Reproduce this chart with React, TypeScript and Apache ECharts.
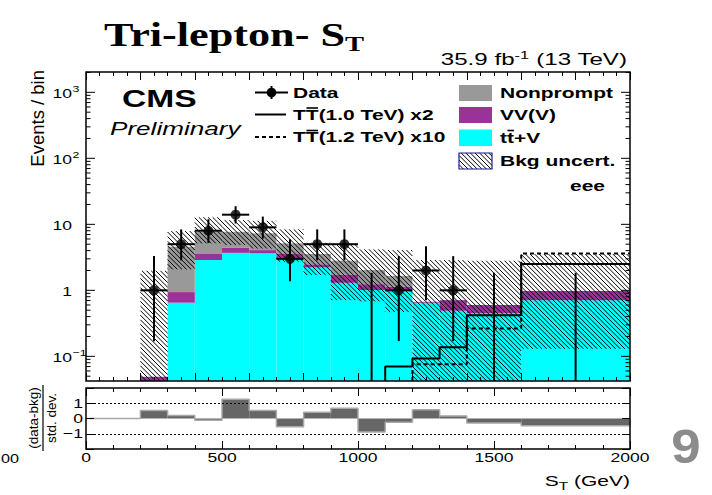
import React, { useEffect, useRef } from 'react';
import * as echarts from 'echarts';

// ---------- data ----------
const binEdges = [200, 300, 400, 500, 600, 700, 800, 900, 1000, 1100, 1200, 1300, 1400, 1600, 2000];
const ttV = [0, 0.65, 2.88, 3.7, 3.63, 3.05, 2.23, 1.3, 1.01, 0.99, 0.65, 0.49, 0.45, 0.71];
const vvv = [0.049, 0.29, 0.75, 0.7, 0.44, 0.5, 0.25, 0.41, 0.23, 0.14, 0.02, 0.22, 0.15, 0.265];
const nonprompt = [0, 3.63, 4.07, 3.3, 3.23, 1.6, 1.07, 1.1, 0.79, 0.52, 0, 0, 0, 0];
const bkgUncLow = [0, 2.08, 5.15, 4.86, 4.3, 2.71, 1.7, 0.71, 0.68, 0.47, 0, 0, 0, 0.13];
const bkgUncHigh = [1.98, 7.9, 12.8, 11.6, 11.3, 8.4, 5.26, 4.86, 4.18, 4.08, 2.88, 2.88, 2.81, 3.55];
const dataCounts = [1, 5, 8, 14, 9, 3, 5, 5, 0, 1, 2, 1, 0, 0];
const dataErrLow = [0.17, 2.84, 5.23, 10.3, 6.06, 1.37, 2.84, 2.84, 0, 0.17, 0.71, 0.17, 0, 0];
const dataErrHigh = [3.3, 8.38, 11.95, 18.8, 13.1, 5.92, 8.38, 8.38, 1.84, 3.3, 4.64, 3.3, 1.84, 1.84];
const signalTT1000x2 = [0, 0, 0, 0, 0, 0, 0, 0, 0, 0.07, 0.093, 0.137, 0.42, 2.5];
const signalTT1200x10 = [0, 0, 0, 0, 0, 0, 0, 0, 0, 0, 0.076, 0.076, 0.265, 3.6];
const pulls = [0.52, 0.19, -0.11, 1.27, 0.52, -0.54, 0.41, 0.67, -0.88, -0.24, 0.58, 0.17, -0.3, -0.47];
const xTickLabels = [0, 500, 1000, 1500, 2000];
const yDecadeTicks = [0.1, 1, 10, 100, 1000];
const yDecadeLabels = [['10', '−1'], ['1', ''], ['10', ''], ['10', '2'], ['10', '3']];
const pullTicks = [-1, 0, 1];
const pullTickLabels = ['−1', '0', '1'];

// ---------- axis ranges ----------
const yMin = 0.0423;
const yMax = 2032;
const xMin = 0;
const xMax = 2000;

const SANS = '"Liberation Sans", Arial, Helvetica, sans-serif';
const SERIF = '"Liberation Serif", "Times New Roman", serif';
const SX = 1.4;

const C_NP = '#999999';
const C_VV = '#993399';
const C_TTV = '#00ffff';

function hatchSegments(x0: number, y0: number, x1: number, y1: number, s: number) {
  const out: any[] = [];
  const cMin = x0 - y1;
  const cMax = x1 - y0;
  for (let c = Math.ceil(cMin / s) * s; c <= cMax; c += s) {
    const xa = Math.max(x0, y0 + c);
    const xb = Math.min(x1, y1 + c);
    if (xb - xa > 0.3) out.push({ x1: xa, y1: xa - c, x2: xb, y2: xb - c });
  }
  return out;
}

const nBins = binEdges.length - 1;
const binIdx = Array.from({ length: nBins }, (_, i) => i);

const stackTTV = binIdx.map((i) => [binEdges[i], binEdges[i + 1], yMin, Math.max(ttV[i], yMin)]);
const stackVV = binIdx.map((i) => [binEdges[i], binEdges[i + 1], Math.max(ttV[i], yMin), Math.max(ttV[i] + vvv[i], yMin)]);
const stackNP = binIdx.map((i) => [
  binEdges[i],
  binEdges[i + 1],
  Math.max(ttV[i] + vvv[i], yMin),
  Math.max(ttV[i] + vvv[i] + nonprompt[i], yMin),
]);
const uncBand = binIdx.map((i) => [binEdges[i], binEdges[i + 1], Math.max(bkgUncLow[i], yMin), bkgUncHigh[i]]);
const dataBars = binIdx.map((i) => [
  binEdges[i],
  binEdges[i + 1],
  Math.max(dataCounts[i], yMin),
  Math.max(dataErrLow[i], yMin),
  dataErrHigh[i],
  dataCounts[i] > 0 ? 1 : 0,
]);
const dataMarkers = binIdx
  .filter((i) => dataCounts[i] > 0)
  .map((i) => [(binEdges[i] + binEdges[i + 1]) / 2, dataCounts[i]]);

function stepPoints(vals: number[]) {
  const pts: number[][] = [];
  let started = false;
  vals.forEach((v, i) => {
    if (!started && v > 0) {
      started = true;
      pts.push([binEdges[i], yMin]);
    }
    if (started) {
      const vv = Math.max(v, yMin);
      pts.push([binEdges[i], vv], [binEdges[i + 1], vv]);
    }
  });
  return pts;
}

const pullOutline: number[][] = [[xMin, 0], [binEdges[0], 0]];
binIdx.forEach((i) => {
  pullOutline.push([binEdges[i], pulls[i]], [binEdges[i + 1], pulls[i]]);
});
pullOutline.push([xMax, 0]);
const pullBars = binIdx.map((i) => [binEdges[i], binEdges[i + 1], pulls[i]]);

const yMinorValues: number[] = [];
[0.01, 0.1, 1, 10, 100, 1000].forEach((d) => {
  for (let m = 2; m <= 9; m++) {
    const v = m * d;
    if (v > yMin && v < yMax) yMinorValues.push(v);
  }
});
const yTickData = [
  ...yDecadeTicks.map((v, i) => [0, v, 1, i]),
  ...yMinorValues.map((v) => [0, v, 0, -1]),
];

const rectItem = (color: string) => (params: any, api: any) => {
  const x0 = api.value(0);
  const x1 = api.value(1);
  const b = Math.max(api.value(2), yMin);
  const t = Math.min(api.value(3), yMax);
  if (t <= b * 1.0001) return null;
  const p0 = api.coord([x0, b]);
  const p1 = api.coord([x1, t]);
  return {
    type: 'rect',
    shape: { x: p0[0], y: p1[1], width: p1[0] - p0[0], height: p0[1] - p1[1] },
    style: { fill: color },
  };
};

function txt(x: number, y: number, text: string, font: string, o: any = {}) {
  return {
    type: 'text',
    x,
    y,
    scaleX: o.sx ?? SX,
    scaleY: o.sy ?? 1,
    rotation: o.rot ?? 0,
    silent: true,
    z: 50,
    style: {
      text,
      font,
      fill: o.fill ?? '#000',
      align: o.align ?? 'left',
      verticalAlign: o.va ?? 'middle',
      rich: o.rich,
    },
  };
}

function gline(x1: number, y1: number, x2: number, y2: number, w = 2, dash?: number[]) {
  return {
    type: 'line',
    silent: true,
    z: 50,
    shape: { x1, y1, x2, y2 },
    style: { stroke: '#000', lineWidth: w, lineDash: dash },
  };
}

const legendHatch = hatchSegments(459, 153, 492, 169, 4.6).map((s) => ({
  type: 'line',
  silent: true,
  z: 50,
  shape: s,
  style: { stroke: '#000', lineWidth: 1 },
}));

const graphicElements: any[] = [
  // title
  txt(104, 35, '{a|Tri-lepton- S}{s|T}', '', {
    sx: 1.3,
    rich: {
      a: { font: `bold 34px ${SERIF}`, lineHeight: 40, fill: '#000' },
      s: { font: `bold 22px ${SERIF}`, lineHeight: 16, verticalAlign: 'bottom', fill: '#000' },
    },
  }),
  // lumi
  txt(627, 59, '{a|35.9 fb}{s|-1}{a| (13 TeV)}', '', {
    align: 'right',
    sx: 1.42,
    rich: {
      a: { font: `17px ${SANS}`, lineHeight: 20, fill: '#000' },
      s: { font: `11.5px ${SANS}`, lineHeight: 8, verticalAlign: 'top', fill: '#000' },
    },
  }),
  // CMS
  txt(122, 99, 'CMS', `bold 24px ${SANS}`, { sx: 1.4 }),
  txt(110, 129, 'Preliminary', `italic 18px ${SANS}`, { sx: 1.45 }),
  // legend left
  gline(255, 92.5, 288, 92.5, 2),
  gline(271.5, 86, 271.5, 99, 2),
  { type: 'circle', silent: true, z: 51, shape: { cx: 271.5, cy: 92.5, r: 4.8 }, style: { fill: '#000' } },
  txt(293, 92.5, 'Data', `bold 15px ${SANS}`),
  gline(255, 114.5, 286, 114.5, 2),
  txt(293, 114.5, 'TT(1.0 TeV) x2', `bold 15px ${SANS}`),
  gline(306.5, 108, 318, 108, 1.6),
  gline(255, 137, 286, 137, 2, [4, 3]),
  txt(293, 137, 'TT(1.2 TeV) x10', `bold 15px ${SANS}`),
  gline(306.5, 130.5, 318, 130.5, 1.6),
  // legend right
  { type: 'rect', silent: true, z: 50, shape: { x: 459, y: 85, width: 33, height: 16 }, style: { fill: C_NP } },
  { type: 'rect', silent: true, z: 50, shape: { x: 459, y: 107, width: 33, height: 16 }, style: { fill: C_VV } },
  { type: 'rect', silent: true, z: 50, shape: { x: 459, y: 129.5, width: 33, height: 16.5 }, style: { fill: C_TTV } },
  ...legendHatch,
  {
    type: 'rect',
    silent: true,
    z: 51,
    shape: { x: 459, y: 153, width: 33, height: 16 },
    style: { fill: 'none', stroke: '#1c1c8c', lineWidth: 1.2 },
  },
  txt(500, 92.5, 'Nonprompt', `bold 15px ${SANS}`),
  txt(500, 115, 'VV(V)', `bold 15px ${SANS}`),
  txt(500, 137.5, 'tt+V', `bold 15px ${SANS}`),
  gline(507.5, 130.5, 514, 130.5, 1.6),
  txt(500, 161, 'Bkg uncert.', `bold 15px ${SANS}`),
  txt(605, 186, 'eee', `bold 15px ${SANS}`, { align: 'right' }),
  // axis titles
  txt(37, 70, 'Events / bin', `18.5px ${SANS}`, { sx: 1, rot: Math.PI / 2, align: 'right' }),
  txt(33.5, 418, '(data-bkg)', `13.5px ${SANS}`, { sx: 1, rot: Math.PI / 2, align: 'center' }),
  txt(51, 418, 'std. dev.', `13.5px ${SANS}`, { sx: 1, rot: Math.PI / 2, align: 'center' }),
  gline(43, 385, 43, 451, 1.2),
  txt(630, 481, '{a|S}{s|T}{a| (GeV)}', '', {
    align: 'right',
    rich: {
      a: { font: `15px ${SANS}`, lineHeight: 22, fill: '#000' },
      s: { font: `11px ${SANS}`, lineHeight: 8, verticalAlign: 'bottom', fill: '#000' },
    },
  }),
  // page fragments
  txt(1, 458, '00', `13.5px ${SANS}`, { align: 'left', sx: 1.2 }),
  txt(686, 446, '9', `bold 48px ${SANS}`, { align: 'center', sx: 1.1, fill: '#8c8c8c' }),
];

const mainX = (position: string) => ({
  type: 'value',
  gridIndex: 0,
  position,
  min: xMin,
  max: xMax,
  interval: 200,
  z: 21,
  axisLine: { show: false, onZero: false },
  axisTick: { show: true, inside: true, length: 8, lineStyle: { color: '#000', width: 1 } },
  minorTick: { show: true, splitNumber: 4, length: 4, lineStyle: { color: '#000', width: 1 } },
  axisLabel: { show: false },
  splitLine: { show: false },
  minorSplitLine: { show: false },
});

const ratioX = (position: string) => ({
  type: 'value',
  gridIndex: 1,
  position,
  min: xMin,
  max: xMax,
  interval: 500,
  z: 21,
  axisLine: { show: false, onZero: false },
  axisTick: { show: true, inside: true, length: 8, lineStyle: { color: '#000', width: 1 } },
  minorTick: { show: true, splitNumber: 5, length: 4, lineStyle: { color: '#000', width: 1 } },
  axisLabel: { show: false },
  splitLine: { show: false },
  minorSplitLine: { show: false },
});

const ratioY = (position: string) => ({
  type: 'value',
  gridIndex: 1,
  position,
  min: -2,
  max: 2,
  interval: 1,
  z: 21,
  axisLine: { show: false, onZero: false },
  axisTick: { show: true, inside: true, length: 8, lineStyle: { color: '#000', width: 1 } },
  axisLabel: { show: false },
  splitLine: { show: false },
});

const option: any = {
  animation: false,
  backgroundColor: '#ffffff',
  grid: [
    {
      left: 86, right: 82, top: 72, height: 309, show: true, borderColor: '#000', borderWidth: 1.5,
      backgroundColor: 'transparent', z: 20, outerBoundsMode: 'none', containLabel: false,
    },
    {
      left: 86, right: 82, top: 388, height: 61, show: true, borderColor: '#000', borderWidth: 1.5,
      backgroundColor: 'transparent', z: 20, outerBoundsMode: 'none', containLabel: false,
    },
  ],
  xAxis: [mainX('bottom'), mainX('top'), ratioX('bottom'), ratioX('top')],
  yAxis: [
    {
      type: 'log', logBase: 10, gridIndex: 0, min: yMin, max: yMax, show: false,
      axisLine: { show: false }, splitLine: { show: false },
    },
    ratioY('left'),
    ratioY('right'),
  ],
  graphic: { elements: graphicElements },
  series: [
    {
      type: 'custom', name: 'ttV', xAxisIndex: 0, yAxisIndex: 0, z: 2,
      data: stackTTV, encode: { x: [0, 1], y: [2, 3] }, renderItem: rectItem(C_TTV), silent: true,
    },
    {
      type: 'custom', name: 'VVV', xAxisIndex: 0, yAxisIndex: 0, z: 2,
      data: stackVV, encode: { x: [0, 1], y: [2, 3] }, renderItem: rectItem(C_VV), silent: true,
    },
    {
      type: 'custom', name: 'Nonprompt', xAxisIndex: 0, yAxisIndex: 0, z: 2,
      data: stackNP, encode: { x: [0, 1], y: [2, 3] }, renderItem: rectItem(C_NP), silent: true,
    },
    {
      type: 'custom', name: 'Bkg uncert.', xAxisIndex: 0, yAxisIndex: 0, z: 3, silent: true,
      data: uncBand, encode: { x: [0, 1], y: [2, 3] },
      renderItem: (params: any, api: any) => {
        const p0 = api.coord([api.value(0), Math.max(api.value(2), yMin)]);
        const p1 = api.coord([api.value(1), Math.min(api.value(3), yMax)]);
        const segs = hatchSegments(p0[0], p1[1], p1[0], p0[1], 4.6);
        return {
          type: 'group',
          children: segs.map((s) => ({ type: 'line', shape: s, style: { stroke: '#000', lineWidth: 1 } })),
        };
      },
    },
    {
      type: 'line', name: 'TT 1.0 TeV x2', xAxisIndex: 0, yAxisIndex: 0, z: 4, silent: true,
      data: stepPoints(signalTT1000x2), symbol: 'none', clip: true,
      lineStyle: { color: '#000', width: 2, type: 'solid' },
    },
    {
      type: 'line', name: 'TT 1.2 TeV x10', xAxisIndex: 0, yAxisIndex: 0, z: 4, silent: true,
      data: stepPoints(signalTT1200x10), symbol: 'none', clip: true,
      lineStyle: { color: '#000', width: 2, type: [4, 3] },
    },
    {
      type: 'custom', name: 'Data err', xAxisIndex: 0, yAxisIndex: 0, z: 5, silent: true,
      data: dataBars, encode: { x: [0, 1], y: [3, 4] },
      renderItem: (params: any, api: any) => {
        const x0 = api.value(0);
        const x1 = api.value(1);
        const xc = (x0 + x1) / 2;
        const n = api.value(2);
        const top = api.coord([xc, api.value(4)]);
        const bot = api.coord([xc, Math.max(api.value(3), yMin)]);
        const children: any[] = [
          { type: 'line', shape: { x1: top[0], y1: top[1], x2: bot[0], y2: bot[1] }, style: { stroke: '#000', lineWidth: 2 } },
        ];
        if (api.value(5) === 1) {
          const a = api.coord([x0, n]);
          const b = api.coord([x1, n]);
          children.push({ type: 'line', shape: { x1: a[0], y1: a[1], x2: b[0], y2: b[1] }, style: { stroke: '#000', lineWidth: 2 } });
        }
        return { type: 'group', children };
      },
    },
    {
      type: 'scatter', name: 'Data', xAxisIndex: 0, yAxisIndex: 0, z: 6, silent: true,
      data: dataMarkers, symbol: 'circle', symbolSize: 10, itemStyle: { color: '#000' },
    },
    {
      type: 'custom', name: 'yTicks', xAxisIndex: 0, yAxisIndex: 0, z: 30, silent: true,
      data: yTickData, encode: { x: 0, y: 1 },
      renderItem: (params: any, api: any) => {
        const v = api.value(1);
        const major = api.value(2) === 1;
        const idx = api.value(3);
        const pL = api.coord([xMin, v]);
        const pR = api.coord([xMax, v]);
        const len = major ? 9 : 4.5;
        const children: any[] = [
          { type: 'line', shape: { x1: pL[0], y1: pL[1], x2: pL[0] + len, y2: pL[1] }, style: { stroke: '#000', lineWidth: 1 } },
          { type: 'line', shape: { x1: pR[0], y1: pR[1], x2: pR[0] - len, y2: pR[1] }, style: { stroke: '#000', lineWidth: 1 } },
        ];
        if (major && idx >= 0) {
          const lab = yDecadeLabels[idx];
          children.push({
            type: 'text', x: pL[0] - 14, y: pL[1] + 1, scaleX: 1.3,
            style: { text: lab[0], font: `13.5px ${SANS}`, fill: '#000', align: 'right', verticalAlign: 'middle' },
          });
          if (lab[1]) {
            children.push({
              type: 'text', x: pL[0] - 13.5, y: pL[1] - 4, scaleX: 1.3,
              style: { text: lab[1], font: `9.5px ${SANS}`, fill: '#000', align: 'left', verticalAlign: 'middle' },
            });
          }
        }
        return { type: 'group', children };
      },
    },
    // ratio panel
    {
      type: 'custom', name: 'pull', xAxisIndex: 2, yAxisIndex: 1, z: 2, silent: true,
      data: pullBars, encode: { x: [0, 1], y: 2 },
      renderItem: (params: any, api: any) => {
        const a = api.coord([api.value(0), 0]);
        const b = api.coord([api.value(1), api.value(2)]);
        return {
          type: 'rect',
          shape: { x: a[0], y: Math.min(a[1], b[1]), width: b[0] - a[0], height: Math.abs(a[1] - b[1]) },
          style: { fill: '#666666' },
        };
      },
    },
    {
      type: 'line', name: 'pull outline', xAxisIndex: 2, yAxisIndex: 1, z: 3, silent: true,
      data: pullOutline, symbol: 'none',
      lineStyle: { color: '#a8a8a8', width: 1.5 },
      markLine: {
        silent: true, symbol: 'none', label: { show: false },
        lineStyle: { color: '#000', width: 1, type: [2, 2] },
        data: [{ yAxis: 1 }, { yAxis: -1 }],
      },
    },
    {
      type: 'custom', name: 'xLabels', xAxisIndex: 2, yAxisIndex: 1, z: 30, silent: true,
      data: xTickLabels.map((v) => [v, -2]), encode: { x: 0, y: 1 },
      renderItem: (params: any, api: any) => {
        const p = api.coord([api.value(0), -2]);
        return {
          type: 'text', x: p[0], y: p[1] + 8.5, scaleX: 1.3,
          style: { text: String(api.value(0)), font: `13.5px ${SANS}`, fill: '#000', align: 'center', verticalAlign: 'middle' },
        };
      },
    },
    {
      type: 'custom', name: 'pullLabels', xAxisIndex: 2, yAxisIndex: 1, z: 30, silent: true,
      data: pullTicks.map((v, i) => [xMin, v, i]), encode: { x: 0, y: 1 },
      renderItem: (params: any, api: any) => {
        const p = api.coord([xMin, api.value(1)]);
        return {
          type: 'text', x: p[0] - 3, y: p[1], scaleX: 1.3,
          style: { text: pullTickLabels[api.value(2)], font: `13.5px ${SANS}`, fill: '#000', align: 'right', verticalAlign: 'middle' },
        };
      },
    },
  ],
};

export default function App() {
  const ref = useRef<HTMLDivElement>(null);
  useEffect(() => {
    document.body.style.margin = '0';
    const chart = echarts.init(ref.current as HTMLDivElement, null, { renderer: 'svg' });
    chart.setOption(option);
    return () => chart.dispose();
  }, []);
  return <div ref={ref} style={{ position: 'absolute', left: 0, top: 0, width: 712, height: 495 }} />;
}
